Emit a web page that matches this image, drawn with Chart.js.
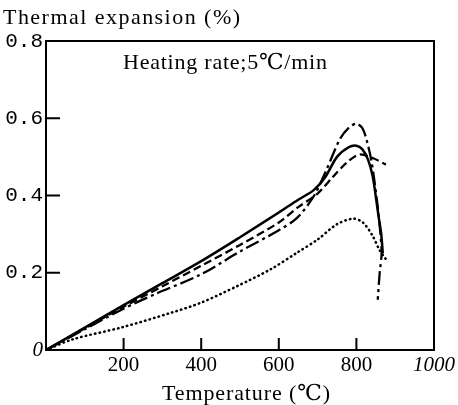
<!DOCTYPE html>
<html>
<head>
<meta charset="utf-8">
<script src="https://cdn.jsdelivr.net/npm/chart.js@4.4.0/dist/chart.umd.min.js"></script>
<style>
  html, body { margin: 0; padding: 0; background: #fff; }
</style>
</head>
<body>
<canvas id="expansionChart" width="458" height="405"></canvas>
<script>
// Values: temperature (℃) and thermal expansion (%)
var solidTemp = [0, 100, 200, 300, 400, 500, 600, 650, 690, 720, 750, 780, 800, 815, 830, 842, 851, 858, 864, 868];
var solidExp  = [0, 0.058, 0.116, 0.173, 0.230, 0.292, 0.356, 0.389, 0.414, 0.448, 0.500, 0.525, 0.529, 0.520, 0.493, 0.450, 0.390, 0.340, 0.300, 0.250];

var dashTemp = [0, 100, 200, 300, 400, 500, 600, 650, 700, 741, 775, 808, 842, 876];
var dashExp  = [0, 0.056, 0.112, 0.165, 0.218, 0.272, 0.330, 0.370, 0.405, 0.450, 0.485, 0.506, 0.497, 0.480];

var dashDotTemp = [0, 100, 200, 282, 400, 500, 600, 647, 690, 723, 757, 780, 800, 815, 826, 838, 846, 855, 862, 865, 860, 855];
var dashDotExp  = [0, 0.054, 0.107, 0.145, 0.196, 0.255, 0.310, 0.342, 0.398, 0.467, 0.545, 0.575, 0.586, 0.575, 0.545, 0.493, 0.441, 0.370, 0.300, 0.250, 0.200, 0.130];

var dotTemp = [0, 70, 197, 324, 401, 494, 579, 647, 700, 749, 791, 817, 842, 859, 876];
var dotExp  = [0, 0.028, 0.059, 0.097, 0.123, 0.166, 0.209, 0.252, 0.286, 0.325, 0.340, 0.330, 0.295, 0.260, 0.235];

var xTickValues = [200, 400, 600, 800];
var yTickValues = [0.2, 0.4, 0.6];

var yTitle = 'Thermal expansion (%)';
var xTitle = 'Temperature (℃)';
var noteText = 'Heating rate;5℃/min';

function toPoints(temps, vals) {
    return temps.map(function (t, i) { return { x: t, y: vals[i] }; });
}

// draws text stretched to a given width with letter spacing
function drawSpaced(ctx, text, left, midY, width) {
    ctx.letterSpacing = '0px';
    var natural = ctx.measureText(text).width;
    var gap = (width - natural) / (text.length - 1);
    ctx.letterSpacing = gap + 'px';
    ctx.textAlign = 'left';
    ctx.textBaseline = 'middle';
    ctx.fillText(text, left, midY);
    ctx.letterSpacing = '0px';
}

var frameAndText = {
    id: 'frameAndText',
    afterDraw: function (chart) {
        var ctx = chart.ctx;
        var area = chart.chartArea;
        var xs = chart.scales.x;
        var ys = chart.scales.y;
        ctx.save();
        ctx.strokeStyle = '#000';
        ctx.lineWidth = 2;
        ctx.strokeRect(area.left, area.top, area.right - area.left, area.bottom - area.top);

        // tick marks point into the plot
        ctx.beginPath();
        yTickValues.forEach(function (v) {
            var y = ys.getPixelForValue(v);
            ctx.moveTo(area.left, y);
            ctx.lineTo(area.left + 14, y);
        });
        xTickValues.forEach(function (v) {
            var x = xs.getPixelForValue(v);
            ctx.moveTo(x, area.bottom);
            ctx.lineTo(x, area.bottom - 12);
        });
        ctx.stroke();

        ctx.fillStyle = '#000';
        ctx.font = '22px "Liberation Serif", "DejaVu Serif", serif';
        drawSpaced(ctx, yTitle, 3, 18, 237);
        drawSpaced(ctx, noteText, area.left + 77, area.top + 22, 204);
        drawSpaced(ctx, xTitle, 162, 394, 168);
        ctx.restore();
    }
};

var ctxExpansion = document.getElementById('expansionChart').getContext('2d');

var expansionChart = new Chart(ctxExpansion, {
    type: 'scatter',
    data: {
        datasets: [
            { label: 'solid', data: toPoints(solidTemp, solidExp), borderWidth: 2.5 },
            { label: 'dashed', data: toPoints(dashTemp, dashExp), borderWidth: 2.3, borderDash: [8, 4] },
            { label: 'dash-dot', data: toPoints(dashDotTemp, dashDotExp), borderWidth: 2.3, borderDash: [14, 4, 3, 4] },
            { label: 'dotted', data: toPoints(dotTemp, dotExp), borderWidth: 2.5, borderDash: [0.5, 4.2], borderCapStyle: 'round' }
        ].map(function (ds) {
            ds.showLine = true;
            ds.borderColor = '#000';
            ds.backgroundColor = '#000';
            ds.pointRadius = 0;
            ds.pointHoverRadius = 0;
            ds.tension = 0.3;
            ds.fill = false;
            return ds;
        })
    },
    options: {
        responsive: false,
        animation: false,
        events: [],
        layout: { padding: { top: 41, right: 20, left: 0, bottom: 0 } },
        plugins: {
            legend: { display: false },
            tooltip: { enabled: false }
        },
        scales: {
            x: {
                type: 'linear',
                min: 0,
                max: 1000,
                afterFit: function (scale) { scale.height = 55; },
                grid: { display: false, drawTicks: false },
                border: { display: true, color: '#000', width: 2 },
                ticks: {
                    stepSize: 200,
                    padding: 3,
                    color: '#000',
                    maxRotation: 0,
                    font: function (c) {
                        var italic = c.tick && c.tick.value === 1000;
                        return { family: '"Liberation Serif", serif', size: 21, style: italic ? 'italic' : 'normal' };
                    },
                    callback: function (v) { return v === 0 ? '' : String(v); }
                }
            },
            y: {
                type: 'linear',
                min: 0,
                max: 0.8,
                afterFit: function (scale) { scale.width = 46; },
                grid: { display: false, drawTicks: false },
                border: { display: true, color: '#000', width: 2 },
                ticks: {
                    stepSize: 0.2,
                    padding: 3,
                    color: '#000',
                    font: function (c) {
                        var zero = c.tick && c.tick.value === 0;
                        return zero
                            ? { family: '"Liberation Serif", serif', size: 21, style: 'italic' }
                            : { family: '"Liberation Mono", monospace', size: 21, style: 'normal' };
                    },
                    callback: function (v) { return v === 0 ? '0' : v.toFixed(1); }
                }
            }
        }
    },
    plugins: [frameAndText]
});
</script>
</body>
</html>
